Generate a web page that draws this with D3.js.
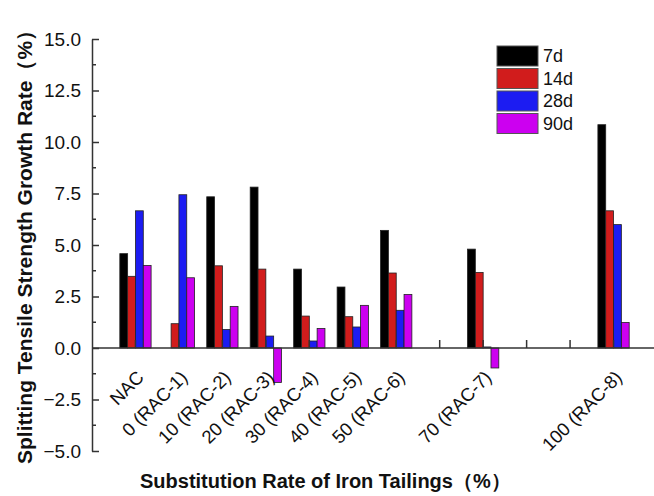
<!DOCTYPE html>
<html>
<head>
<meta charset="utf-8">
<script src="https://cdn.jsdelivr.net/npm/d3@7"></script>
<style>
  body { margin: 0; background: #fff; }
  text { font-family: "Liberation Sans", Arial, sans-serif; }
</style>
</head>
<body>
<svg id="chart"></svg>
<script>
// data
const groups = ["NAC", "0 (RAC-1)", "10 (RAC-2)", "20 (RAC-3)", "30 (RAC-4)", "40 (RAC-5)", "50 (RAC-6)", "70 (RAC-7)", "100 (RAC-8)"];
const groupPos = [0, 1, 2, 3, 4, 5, 6, 8, 11];   // slot on the x axis
const series = ["7d", "14d", "28d", "90d"];
const colors = ["#000000", "#d11c1c", "#1c1cf2", "#cc00f0"];
const d7  = [4.58, 0.0, 7.34, 7.81, 3.83, 2.96, 5.71, 4.80, 10.84];
const d14 = [3.48, 1.18, 3.99, 3.83, 1.55, 1.52, 3.64, 3.67, 6.66];
const d28 = [6.66, 7.44, 0.90, 0.58, 0.34, 1.02, 1.83, 0.05, 5.99];
const d90 = [4.01, 3.41, 2.02, -1.67, 0.95, 2.07, 2.60, -0.97, 1.24];
const values = [d7, d14, d28, d90];
const yTicks = [-5, -2.5, 0, 2.5, 5, 7.5, 10, 12.5, 15];

const width = 654, height = 496;
const svg = d3.select("#chart").attr("width", width).attr("height", height);

const x = d3.scaleLinear().domain([-1, 12]).range([92, 657]);
const y = d3.scaleLinear().domain([-5, 15]).range([451, 39]);
const slot = x(1) - x(0);
const bw = slot * 0.18;

// bars
series.forEach((s, si) => {
  svg.append("g")
    .selectAll("rect")
    .data(values[si])
    .enter()
    .append("rect")
    .attr("x", (d, i) => x(groupPos[i]) + (si - 2) * bw)
    .attr("width", bw)
    .attr("y", d => y(Math.max(0, d)))
    .attr("height", d => Math.abs(y(d) - y(0)))
    .attr("fill", colors[si])
    .attr("stroke", "#222")
    .attr("stroke-width", 0.8);
});

// zero line with upward ticks
svg.append("line")
  .attr("x1", x(-1)).attr("x2", width)
  .attr("y1", y(0)).attr("y2", y(0))
  .attr("stroke", "#333").attr("stroke-width", 1.5);

svg.append("g")
  .selectAll("line")
  .data(d3.range(0, 12))
  .enter()
  .append("line")
  .attr("x1", d => x(d)).attr("x2", d => x(d))
  .attr("y1", y(0)).attr("y2", y(0) - 8)
  .attr("stroke", "#333").attr("stroke-width", 1.5);

// rotated category labels
svg.append("g")
  .selectAll("text")
  .data(groups)
  .enter()
  .append("text")
  .attr("transform", (d, i) => "translate(" + (x(groupPos[i]) + 5) + "," + (y(0) + 26) + ") rotate(-45)")
  .attr("text-anchor", "end")
  .attr("dy", "0.35em")
  .attr("font-size", 18.5)
  .attr("fill", "#111")
  .text(d => d);

// y axis
const yAxis = svg.append("g")
  .attr("transform", "translate(" + x(-1) + ",0)")
  .call(d3.axisLeft(y).tickValues(yTicks).tickFormat(d3.format(".1f"))
    .tickSizeInner(-7).tickSizeOuter(0).tickPadding(11));
yAxis.select(".domain").attr("stroke", "#333").attr("stroke-width", 1.5);
yAxis.selectAll(".tick line").attr("stroke", "#333").attr("stroke-width", 1.5);
yAxis.selectAll(".tick text").attr("font-size", 19).attr("fill", "#111")
  .style("font-family", "'Liberation Sans', Arial, sans-serif");

// minor y ticks
svg.append("g")
  .selectAll("line")
  .data(yTicks.slice(0, -1).map(v => v + 1.25))
  .enter()
  .append("line")
  .attr("x1", x(-1)).attr("x2", x(-1) + 4)
  .attr("y1", d => y(d)).attr("y2", d => y(d))
  .attr("stroke", "#333").attr("stroke-width", 1.5);

// axis titles
svg.append("text")
  .attr("x", 140).attr("y", 488)
  .attr("font-size", 20).attr("font-weight", "bold")
  .attr("fill", "#111")
  .text("Substitution Rate of Iron Tailings（%）");

svg.append("text")
  .attr("transform", "translate(32,464) rotate(-90)")
  .attr("font-size", 21).attr("font-weight", "bold")
  .attr("fill", "#111")
  .text("Splitting Tensile Strength Growth Rate（%）");

// legend
const legend = svg.append("g").attr("transform", "translate(497,46)");
series.forEach((s, i) => {
  legend.append("rect")
    .attr("x", 0).attr("y", i * 22.5)
    .attr("width", 41).attr("height", 20)
    .attr("fill", colors[i]).attr("stroke", "#555").attr("stroke-width", 1);
  legend.append("text")
    .attr("x", 46).attr("y", i * 22.5 + 10)
    .attr("dy", "0.36em")
    .attr("font-size", 18).attr("fill", "#111")
    .text(s);
});
</script>
</body>
</html>
